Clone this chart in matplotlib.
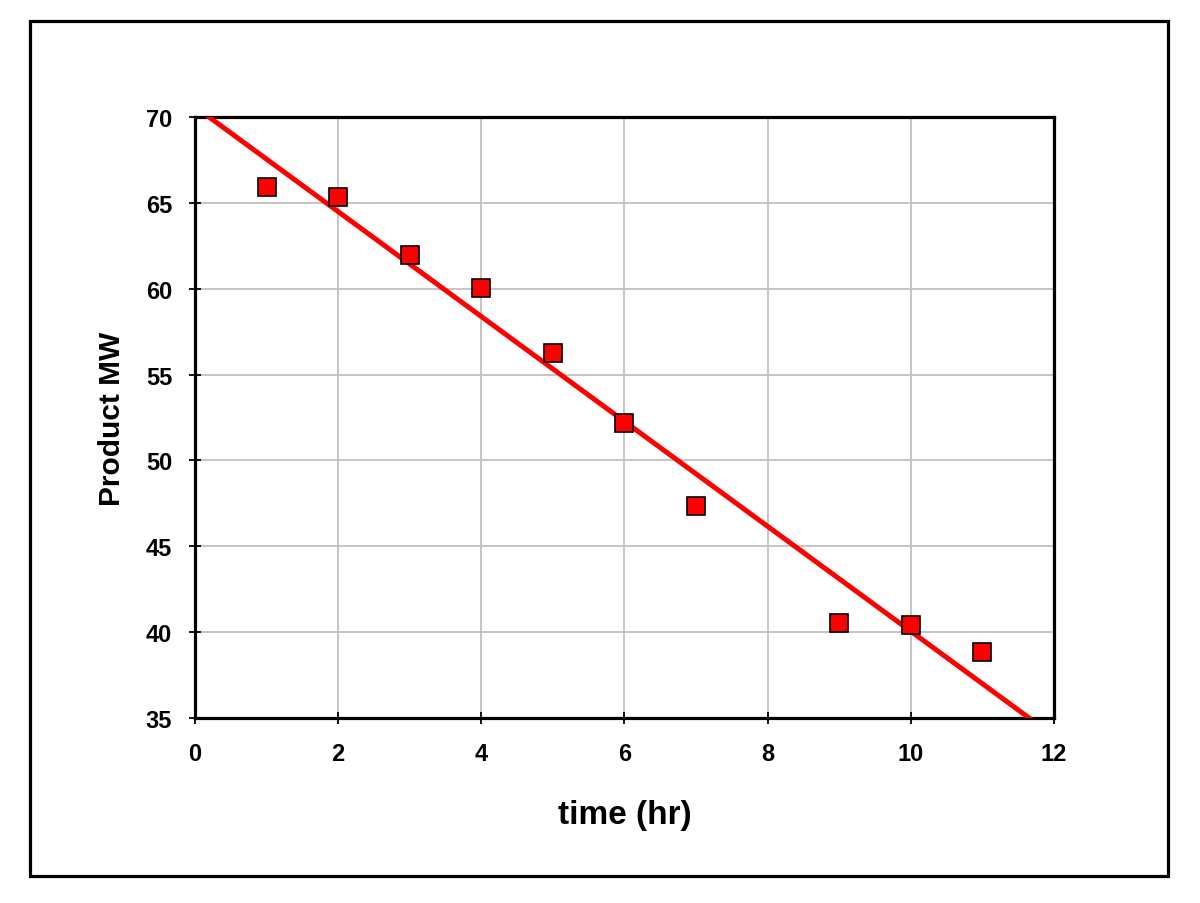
import matplotlib
matplotlib.use("Agg")
import matplotlib.pyplot as plt
import matplotlib.patches as mpatches
import numpy as np

plt.rcParams["font.family"] = ["Liberation Sans", "DejaVu Sans"]
plt.rcParams["font.weight"] = "bold"

# data
time_hr = [1, 2, 3, 4, 5, 6, 7, 9, 10, 11]
product_mw = [65.9, 65.35, 61.95, 60.05, 56.25, 52.15, 47.35, 40.55, 40.4, 38.85]
x_ticks = [0, 2, 4, 6, 8, 10, 12]
y_ticks = [35, 40, 45, 50, 55, 60, 65, 70]

fig = plt.figure(figsize=(12, 9.04), dpi=100)
ax = fig.add_axes([0.1625, 0.2046, 0.7158, 0.665])

# linear trendline
slope, intercept = np.polyfit(time_hr, product_mw, 1)
xs = np.array([0, 12])
ax.plot(xs, slope * xs + intercept, color="#ff0000", lw=3.6, zorder=3,
        solid_capstyle="butt")

ax.plot(time_hr, product_mw, linestyle="none", marker="s", markersize=12.5,
        markerfacecolor="#ff0000", markeredgecolor="black",
        markeredgewidth=1.2, zorder=4)

ax.set_xlim(0, 12)
ax.set_ylim(35, 70)
ax.set_xticks(x_ticks)
ax.set_yticks(y_ticks)
ax.grid(True, color="#c0c0c0", lw=1.3)
ax.set_axisbelow(True)
for sp in ax.spines.values():
    sp.set_linewidth(2.3)
ax.tick_params(direction="inout", length=9, width=1.3, labelsize=17)
ax.tick_params(axis="x", pad=13)
ax.tick_params(axis="y", pad=12)

ax.set_xlabel("time (hr)", fontsize=24, fontweight="bold", labelpad=24)
ax.set_ylabel("Product MW", fontsize=21.5, fontweight="bold", labelpad=14)

# outer frame
fig.patches.append(mpatches.Rectangle(
    (0.025, 0.0299), 0.9483, 0.9458, transform=fig.transFigure,
    fill=False, edgecolor="black", linewidth=2.3,
))

fig.savefig("out.png", dpi=100)
plt.close(fig)
